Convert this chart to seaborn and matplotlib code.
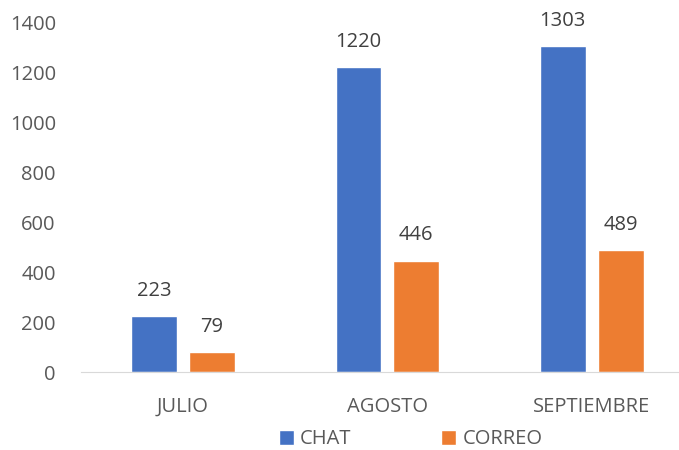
import matplotlib
matplotlib.use("Agg")
import matplotlib.pyplot as plt
import pandas as pd
import seaborn as sns

# Data
months = ["JULIO", "AGOSTO", "SEPTIEMBRE"]
chat = [223, 1220, 1303]
correo = [79, 446, 489]
series_names = ["CHAT", "CORREO"]

df = pd.DataFrame({
    "mes": months * 2,
    "serie": [series_names[0]] * len(months) + [series_names[1]] * len(months),
    "valor": chat + correo,
})

sns.set_style("white")
plt.rcParams["font.family"] = ["Open Sans", "DejaVu Sans"]

fig = plt.figure(figsize=(6.79, 4.5), dpi=100)
ax = fig.add_axes([0.119, 0.173, 0.903, 0.778])

palette = {"CHAT": "#4472C4", "CORREO": "#ED7D31"}
sns.barplot(data=df, x="mes", y="valor", hue="serie", palette=palette,
            width=0.567, gap=0.21, saturation=1, ax=ax, legend=True)

for cont in ax.containers:
    ax.bar_label(cont, padding=11, fontsize=14.5, color="#404040")

ax.set_xlim(-0.5, 2.5)
ax.set_ylim(0, 1400)
ax.set_yticks(range(0, 1401, 200))
ax.set_xlabel("")
ax.set_ylabel("")
ax.tick_params(axis="both", labelsize=14.5, labelcolor="#595959", length=0)
ax.tick_params(axis="y", pad=18)
ax.tick_params(axis="x", pad=18)
for side in ["top", "right", "left"]:
    ax.spines[side].set_visible(False)
ax.spines["bottom"].set_color("#D9D9D9")

ax.legend(loc="upper center", bbox_to_anchor=(0.538, -0.112), ncol=2, frameon=False,
          fontsize=14.5, labelcolor="#595959", handlelength=0.75, handleheight=0.75,
          handletextpad=0.3, columnspacing=4.45)

fig.savefig("out.png", dpi=100)
